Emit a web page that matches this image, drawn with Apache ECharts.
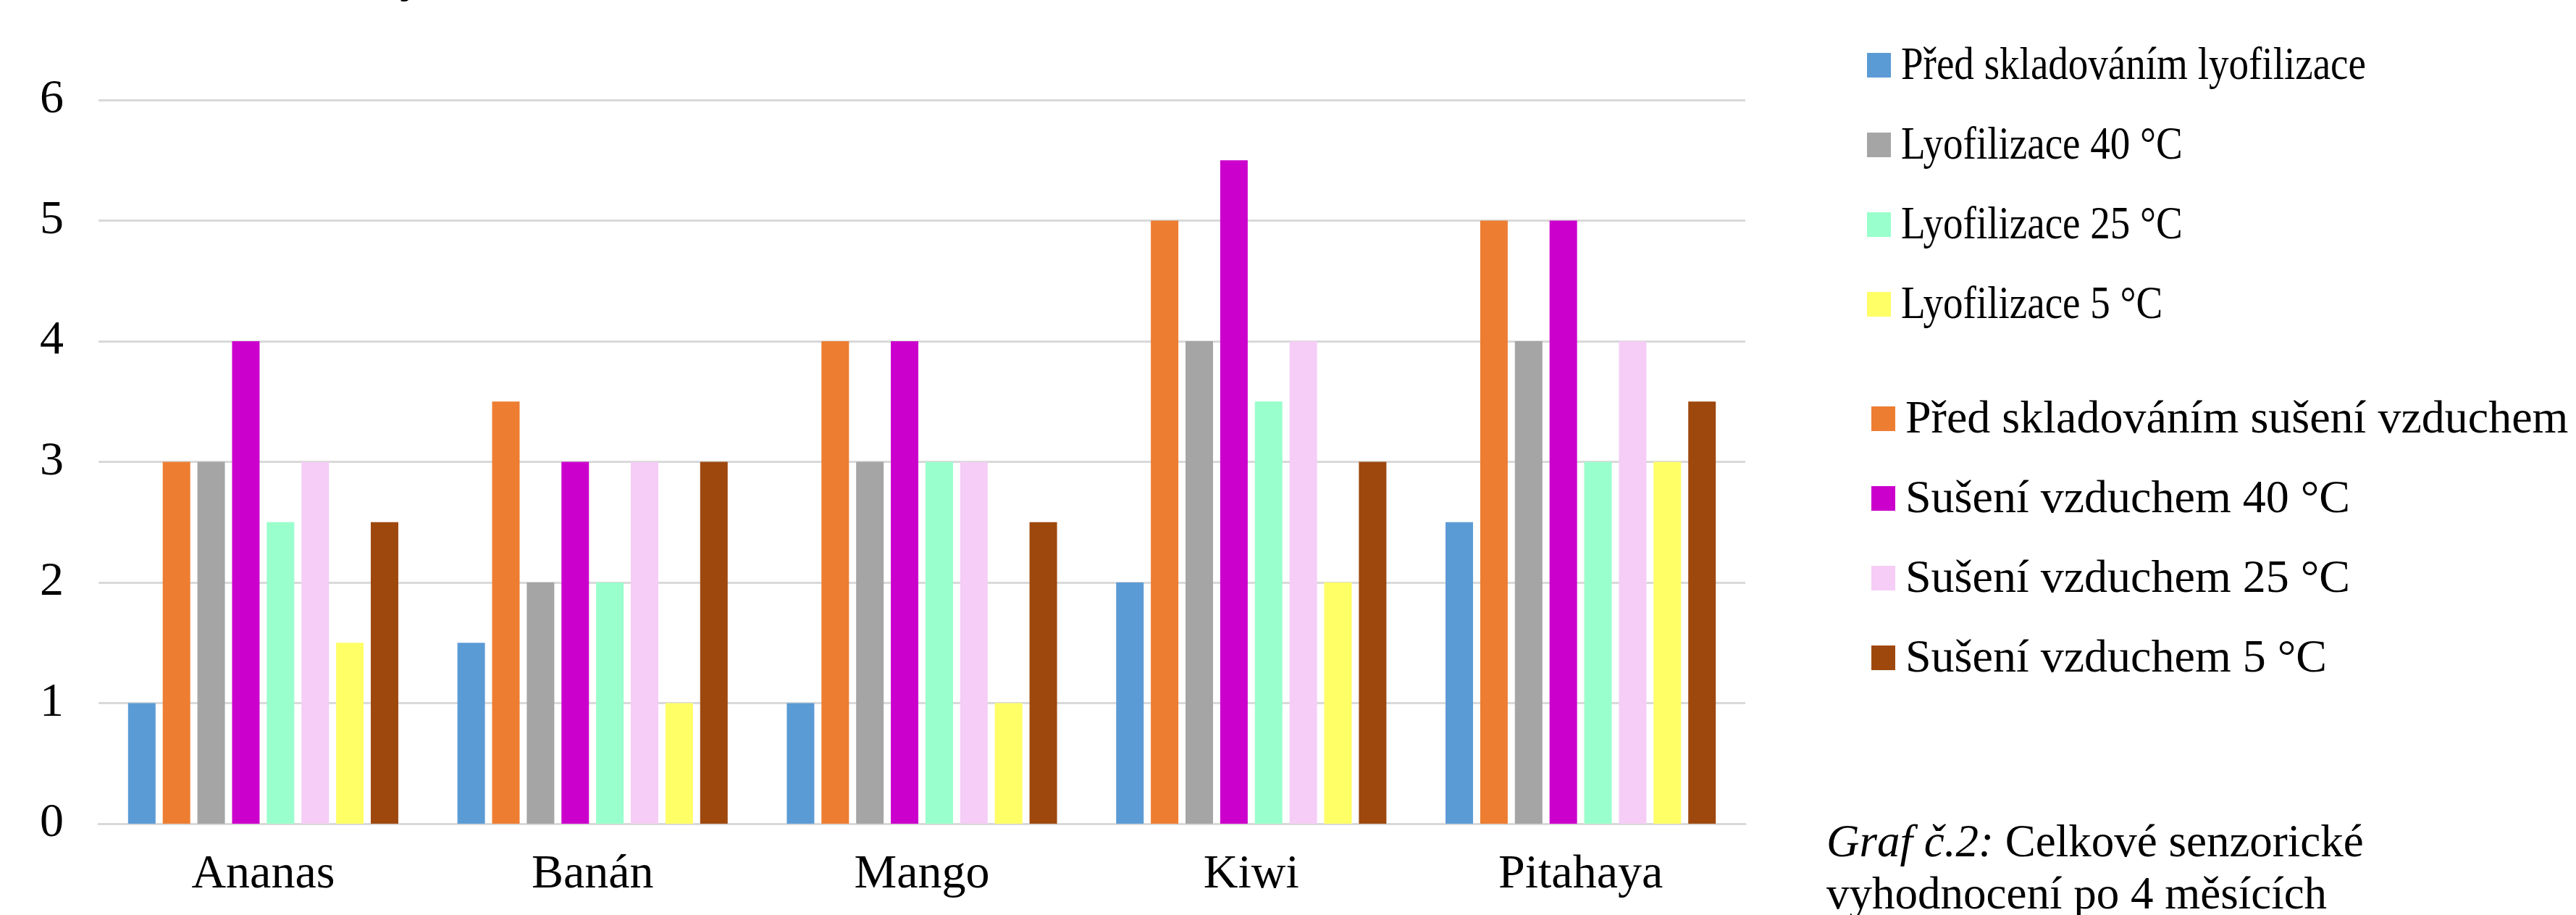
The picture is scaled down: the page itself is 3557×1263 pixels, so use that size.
<!DOCTYPE html>
<html>
<head>
<meta charset="utf-8">
<script src="https://cdn.jsdelivr.net/npm/echarts@6/dist/echarts.min.js"></script>
<style>
  html, body { margin: 0; padding: 0; background: #fff; }
  #chart { width: 3557px; height: 1263px; }
</style>
</head>
<body>
<div id="chart"></div>
<script>
// kategorie (ovoce)
const categories = ['Ananas', 'Banán', 'Mango', 'Kiwi', 'Pitahaya']

// hodnoty jednotlivých řad, v pořadí sloupců ve skupině
const predLyo = [1, 1.5, 1, 2, 2.5]
const predVzduch = [3, 3.5, 4, 5, 5]
const lyo40 = [3, 2, 3, 4, 4]
const vzduch40 = [4, 3, 4, 5.5, 5]
const lyo25 = [2.5, 2, 3, 3.5, 3]
const vzduch25 = [3, 3, 3, 4, 4]
const lyo5 = [1.5, 1, 1, 2, 3]
const vzduch5 = [2.5, 3, 2.5, 3, 3.5]

const yTicks = [0, 1, 2, 3, 4, 5, 6]

const font = '"Liberation Serif", "Times New Roman", serif'

const seriesDefs = [
  { name: 'Před skladováním lyofilizace', data: predLyo, color: '#5B9BD5' },
  { name: 'Před skladováním sušení vzduchem', data: predVzduch, color: '#ED7D31' },
  { name: 'Lyofilizace 40 °C', data: lyo40, color: '#A5A5A5' },
  { name: 'Sušení vzduchem 40 °C', data: vzduch40, color: '#CC00CC' },
  { name: 'Lyofilizace 25 °C', data: lyo25, color: '#99FFCC' },
  { name: 'Sušení vzduchem 25 °C', data: vzduch25, color: '#F5CDF6' },
  { name: 'Lyofilizace 5 °C', data: lyo5, color: '#FFFF66' },
  { name: 'Sušení vzduchem 5 °C', data: vzduch5, color: '#9E480E' }
]

// legenda je ve dvou blocích: lyofilizace (užší písmo) a sušení vzduchem
const legendBlocks = [
  { items: [0, 2, 4, 6], x: 2578, y: 90, scaleX: 0.86 },
  { items: [1, 3, 5, 7], x: 2584, y: 578, scaleX: 1 }
]
const legendRowGap = 110

const legendGraphics = []
legendBlocks.forEach(block => {
  block.items.forEach((idx, row) => {
    const s = seriesDefs[idx]
    const cy = block.y + row * legendRowGap
    legendGraphics.push({
      type: 'rect',
      shape: { x: block.x, y: cy - 17, width: 33, height: 34 },
      style: { fill: s.color }
    })
    legendGraphics.push({
      type: 'text',
      x: block.x + 47,
      y: cy + 2,
      scaleX: block.scaleX,
      style: {
        text: s.name,
        fontFamily: font,
        fontSize: 64,
        fill: '#000',
        textVerticalAlign: 'middle'
      }
    })
  })
})

const chart = echarts.init(document.getElementById('chart'))

const option = {
  animation: false,
  backgroundColor: '#fff',
  grid: { left: 136, right: 1147, top: 138, bottom: 126, containLabel: false },
  xAxis: {
    type: 'category',
    data: categories,
    axisLine: { lineStyle: { color: '#D9D9D9', width: 3 } },
    axisTick: { show: false },
    axisLabel: { fontFamily: font, fontSize: 66, color: '#000', margin: 38 }
  },
  yAxis: {
    type: 'value',
    min: yTicks[0],
    max: yTicks[yTicks.length - 1],
    interval: 1,
    axisLine: { show: false },
    axisTick: { show: false },
    splitLine: { lineStyle: { color: '#D9D9D9', width: 3 } },
    axisLabel: { fontFamily: font, fontSize: 66, color: '#000', margin: 48 }
  },
  series: seriesDefs.map(s => ({
    type: 'bar',
    name: s.name,
    data: s.data,
    barWidth: 38,
    barGap: '26%',
    itemStyle: { color: s.color }
  })),
  graphic: legendGraphics.concat([
    {
      // useknutý nadpis nahoře
      type: 'text',
      left: 552,
      top: -62,
      style: { text: 'y', fontFamily: font, fontSize: 66, fontWeight: 'bold', fill: '#000' }
    },
    {
      type: 'text',
      left: 2522,
      top: 1129,
      style: {
        text: '{i|Graf č.2:} Celkové senzorické\nvyhodnocení po 4 měsících',
        fontFamily: font,
        fontSize: 63,
        lineHeight: 72,
        fill: '#000',
        rich: {
          i: { fontFamily: font, fontSize: 63, fontStyle: 'italic', fill: '#000' }
        }
      }
    }
  ])
}

chart.setOption(option)
</script>
</body>
</html>
